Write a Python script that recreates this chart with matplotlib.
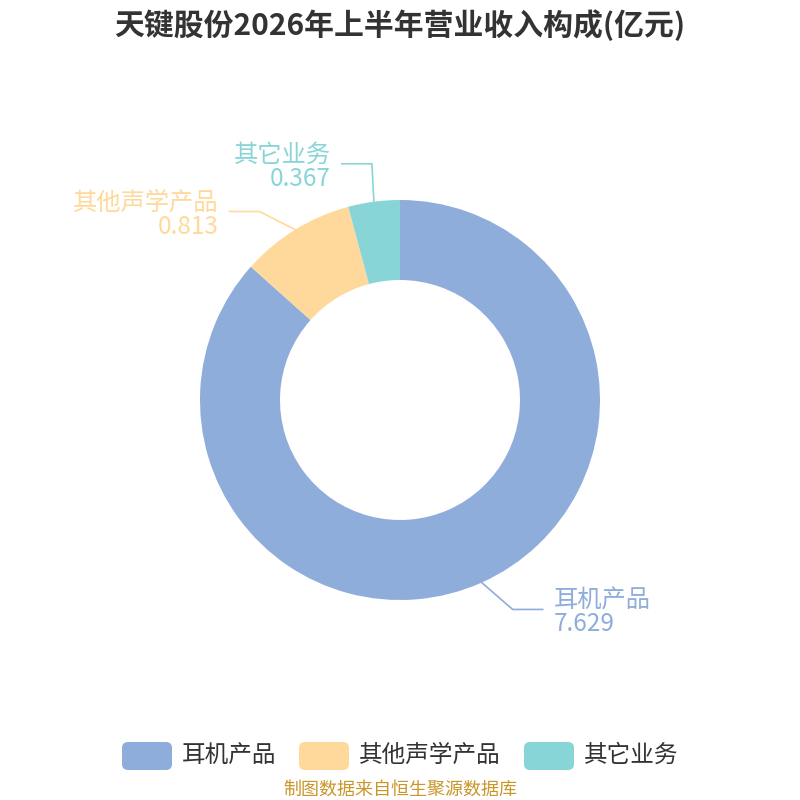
"""
天键股份 2026 年上半年营业收入构成 — 环形图
"""
import matplotlib
matplotlib.use("Agg")
import matplotlib.pyplot as plt
import numpy as np
from matplotlib.patches import FancyBboxPatch

plt.rcParams["font.family"] = ["Noto Sans CJK SC", "DejaVu Sans"]

title = "天键股份2026年上半年营业收入构成(亿元)"
categories = ["耳机产品", "其他声学产品", "其它业务"]
values = [7.629, 0.813, 0.367]
colors = ["#8EADDA", "#FFD99B", "#88D5D8"]
source = "制图数据来自恒生聚源数据库"

# layout (pixels, y from top)
W = H = 800
cx, cy = 400, 400
r_out, r_in = 200, 120
leader_dir = [-41, 153, 93]      # direction of first leader segment (deg)
leader_len = [41, 40, 38]
hseg = 30

fig = plt.figure(figsize=(8, 8), dpi=100)
ax = fig.add_axes([0, 0, 1, 1])
ax.set_xlim(0, W)
ax.set_ylim(0, H)
ax.set_aspect("equal")
ax.axis("off")


def Y(p):
    return H - p


wedges, _ = ax.pie(values, colors=colors, startangle=90, counterclock=False,
                   radius=r_out, center=(cx, Y(cy)),
                   wedgeprops=dict(width=r_out - r_in, linewidth=0))
ax.set_xlim(0, W)
ax.set_ylim(0, H)

for w, name, val, col, d, L in zip(wedges, categories, values, colors, leader_dir, leader_len):
    mid = np.deg2rad((w.theta1 + w.theta2) / 2)
    x0 = cx + r_out * np.cos(mid)
    y0 = Y(cy) + r_out * np.sin(mid)
    x1 = x0 + L * np.cos(np.deg2rad(d))
    y1 = y0 + L * np.sin(np.deg2rad(d))
    side = 1 if np.cos(mid) > 0 else -1
    x2 = x1 + side * hseg
    ax.plot([x0, x1, x2], [y0, y1, y1], color=col, lw=1.2, solid_joinstyle="miter")
    ha = "left" if side > 0 else "right"
    tx = x2 + side * 11
    # name sits above the leader, value just below it
    ax.text(tx, y1 + 2, name, color=col, fontsize=17.5, ha=ha, va="baseline")
    ax.text(tx, y1 - 2, f"{val:.3f}", color=col, fontsize=17.5, ha=ha, va="top")

ax.text(W / 2, Y(25), title, fontsize=21.5, fontweight="bold", color="#333333",
        ha="center", va="center")

# legend
leg_rects = [122, 299, 524]
for lx, name, col in zip(leg_rects, categories, colors):
    ax.add_patch(FancyBboxPatch((lx, Y(770)), 50, 28,
                                boxstyle="round,pad=0,rounding_size=6",
                                facecolor=col, edgecolor="none"))
    ax.text(lx + 60, Y(755), name, fontsize=17, color="#333333", ha="left", va="center")

ax.text(W / 2, Y(790), source, fontsize=13, color="#C9962A", ha="center", va="center")

fig.savefig("out.png", dpi=100, facecolor="white")
